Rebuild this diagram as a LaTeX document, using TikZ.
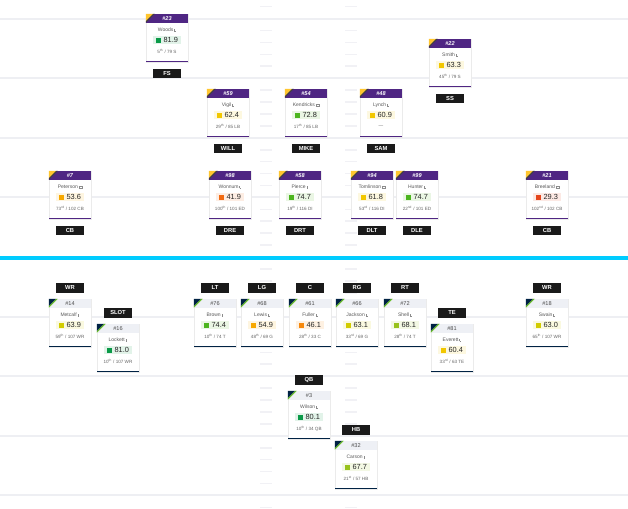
\documentclass[tikz,border=0pt]{standalone}
\usepackage{fontspec}
\setmainfont{Liberation Sans}
\usetikzlibrary{calc}
\definecolor{vpurple}{HTML}{4F2683}
\definecolor{vgold}{HTML}{FFC62F}
\definecolor{snavy}{HTML}{002244}
\definecolor{sgreen}{HTML}{69BE28}
\definecolor{ohead}{HTML}{EEF0F5}
\definecolor{lblk}{HTML}{1A1A1A}
\definecolor{fline}{HTML}{EEEFF3}
\definecolor{hline}{HTML}{F1F1F5}
\definecolor{blueline}{HTML}{00CCFF}
\definecolor{sA}{HTML}{0A9A48}
\definecolor{sB}{HTML}{4CB51E}
\definecolor{sC}{HTML}{98C21C}
\definecolor{sD}{HTML}{D2CC00}
\definecolor{sE}{HTML}{F2C700}
\definecolor{sF}{HTML}{F7A800}
\definecolor{sG}{HTML}{F6880C}
\definecolor{sH}{HTML}{F26B12}
\definecolor{sI}{HTML}{E5461C}
\newcommand\licon{\,\textcolor{black!45}{\rule{0.35pt}{2.2pt}\rule{1.6pt}{0.35pt}}}
\newcommand\cicon{\,{\color{black!45}\fboxsep=0pt\fboxrule=0.35pt\fbox{\rule{0pt}{2.4pt}\hspace{2.8pt}}}}
\tikzset{
  cardbody/.style={draw=black!8, fill=white, minimum width=42pt, minimum height=48pt, inner sep=0pt},
  dnum/.style={text=white, font=\fontsize{5.6}{6}\selectfont\bfseries\itshape, inner sep=0pt},
  onum/.style={text=black!70, font=\fontsize{5.6}{6}\selectfont, inner sep=0pt},
  pname/.style={text=black!65, font=\fontsize{5}{6}\selectfont, inner sep=0pt},
  chip/.style={font=\fontsize{7.4}{8}\selectfont, text=black!85, inner xsep=1pt, inner ysep=1pt, minimum width=28pt, minimum height=8pt},
  prank/.style={text=black!60, font=\fontsize{4.6}{5}\selectfont, inner sep=0pt},
  poslabel/.style={fill=lblk, text=white, font=\fontsize{5.8}{6}\selectfont\bfseries, minimum width=28pt, minimum height=9.5pt, inner sep=0pt},
}
% #1 id, #2 x0, #3 y0, #4 num, #5 name, #6 color, #7 score, #8 rank, #9 label
\newcommand\dcard[9]{%
  \node[cardbody] (#1) at (#2+21,#3+24) {};
  \fill[vpurple] (#1.north west) rectangle ($(#1.north east)+(0,9)$);
  \fill[vgold] (#1.north west) -- ++(7.5,0) -- ++(-7.5,7.5) -- cycle;
  \fill[black!75] ($(#1.north west)+(7.5,0)$) -- ++(1.5,0) -- ++(-9,9) -- ++(0,-1.5) -- cycle;
  \node[dnum] (#1-n) at ($(#1.north)+(0,4.6)$) {\##4};
  \node[pname] (#1-p) at ($(#1.north)+(0,16)$) {#5};
  \node[chip, fill=#6!12] (#1-s) at ($(#1.north)+(0,26.5)$) {\textcolor{#6}{\rule[-0.3pt]{5pt}{5pt}}\hspace{2.5pt}#7};
  \node[prank] (#1-r) at ($(#1.north)+(0,38)$) {#8};
  \fill[vpurple] ($(#1.south west)+(0,-1.4)$) rectangle (#1.south east);
  \node[poslabel] (#1-l) at ($(#1.south)+(0,11.5)$) {#9};
}
\newcommand\ocard[9]{%
  \node[cardbody] (#1) at (#2+21,#3+24) {};
  \fill[ohead] (#1.north west) rectangle ($(#1.north east)+(0,9)$);
  \fill[snavy] (#1.north west) -- ++(7.5,0) -- ++(-7.5,7.5) -- cycle;
  \fill[sgreen] ($(#1.north west)+(7.5,0)$) -- ++(1.5,0) -- ++(-9,9) -- ++(0,-1.5) -- cycle;
  \node[onum] (#1-n) at ($(#1.north)+(0,4.6)$) {\##4};
  \node[pname] (#1-p) at ($(#1.north)+(0,16)$) {#5};
  \node[chip, fill=#6!12] (#1-s) at ($(#1.north)+(0,26.5)$) {\textcolor{#6}{\rule[-0.3pt]{5pt}{5pt}}\hspace{2.5pt}#7};
  \node[prank] (#1-r) at ($(#1.north)+(0,38)$) {#8};
  \fill[snavy] ($(#1.south west)+(0,-1.4)$) rectangle (#1.south east);
  \node[poslabel] (#1-l) at ($(#1.north)+(0,-11)$) {#9};
}
\newcommand\tsup[1]{\textsuperscript{#1}}
\begin{document}
\begin{tikzpicture}[x=1pt,y=-1pt]
\useasboundingbox (0,0) rectangle (628,508);
\fill[white] (0,0) rectangle (628,508);
% field
\foreach \i in {-1,...,42} {
  \fill[hline] (260,18.6+11.92*\i-0.8) rectangle (272,18.6+11.92*\i+0.8);
  \fill[hline] (345,18.6+11.92*\i-0.8) rectangle (357,18.6+11.92*\i+0.8);
}
\foreach \yy in {18.6,78.2,137.8,197.4,316.6,376.2,435.8,495.4}
  \fill[fline] (0,\yy-1) rectangle (628,\yy+1);
\fill[blueline] (0,256) rectangle (628,259.5);
% defense
\dcard{woods}{146}{14}{23}{Woods\licon}{sA}{81.9}{5\tsup{th} / 79 S}{FS}
\dcard{smith}{429}{39}{22}{Smith\licon}{sE}{63.3}{45\tsup{th} / 79 S}{SS}
\dcard{vigil}{207}{89}{59}{Vigil\licon}{sE}{62.4}{29\tsup{th} / 85 LB}{WILL}
\dcard{kendricks}{285}{89}{54}{Kendricks\cicon}{sB}{72.8}{17\tsup{th} / 85 LB}{MIKE}
\dcard{lynch}{360}{89}{48}{Lynch\licon}{sE}{60.9}{—}{SAM}
\dcard{peterson}{49}{171}{7}{Peterson\cicon}{sF}{53.6}{73\tsup{rd} / 102 CB}{CB}
\dcard{wonnum}{209}{171}{98}{Wonnum\licon}{sH}{41.9}{100\tsup{th} / 101 ED}{DRE}
\dcard{pierce}{279}{171}{58}{Pierce\licon}{sB}{74.7}{19\tsup{th} / 116 DI}{DRT}
\dcard{tomlinson}{351}{171}{94}{Tomlinson\cicon}{sE}{61.8}{53\tsup{rd} / 116 DI}{DLT}
\dcard{hunter}{396}{171}{99}{Hunter\licon}{sB}{74.7}{22\tsup{nd} / 101 ED}{DLE}
\dcard{breeland}{526}{171}{21}{Breeland\cicon}{sI}{29.3}{102\tsup{nd} / 102 CB}{CB}
% offense
\ocard{metcalf}{49}{299}{14}{Metcalf\licon}{sD}{63.9}{59\tsup{th} / 107 WR}{WR}
\ocard{lockett}{97}{324}{16}{Lockett\licon}{sA}{81.0}{10\tsup{th} / 107 WR}{SLOT}
\ocard{brown}{194}{299}{76}{Brown\licon}{sB}{74.4}{10\tsup{th} / 74 T}{LT}
\ocard{lewis}{241}{299}{68}{Lewis\licon}{sF}{54.9}{48\tsup{th} / 69 G}{LG}
\ocard{fuller}{289}{299}{61}{Fuller\licon}{sG}{46.1}{28\tsup{th} / 33 C}{C}
\ocard{jackson}{336}{299}{66}{Jackson\licon}{sD}{63.1}{33\tsup{rd} / 69 G}{RG}
\ocard{shell}{384}{299}{72}{Shell\licon}{sC}{68.1}{28\tsup{th} / 74 T}{RT}
\ocard{everett}{431}{324}{81}{Everett\licon}{sE}{60.4}{33\tsup{rd} / 63 TE}{TE}
\ocard{swain}{526}{299}{18}{Swain\licon}{sD}{63.0}{65\tsup{th} / 107 WR}{WR}
\ocard{wilson}{288}{391}{3}{Wilson\licon}{sA}{80.1}{10\tsup{th} / 34 QB}{QB}
\ocard{carson}{335}{441}{32}{Carson\licon}{sC}{67.7}{21\tsup{st} / 57 HB}{HB}
\end{tikzpicture}
\end{document}
